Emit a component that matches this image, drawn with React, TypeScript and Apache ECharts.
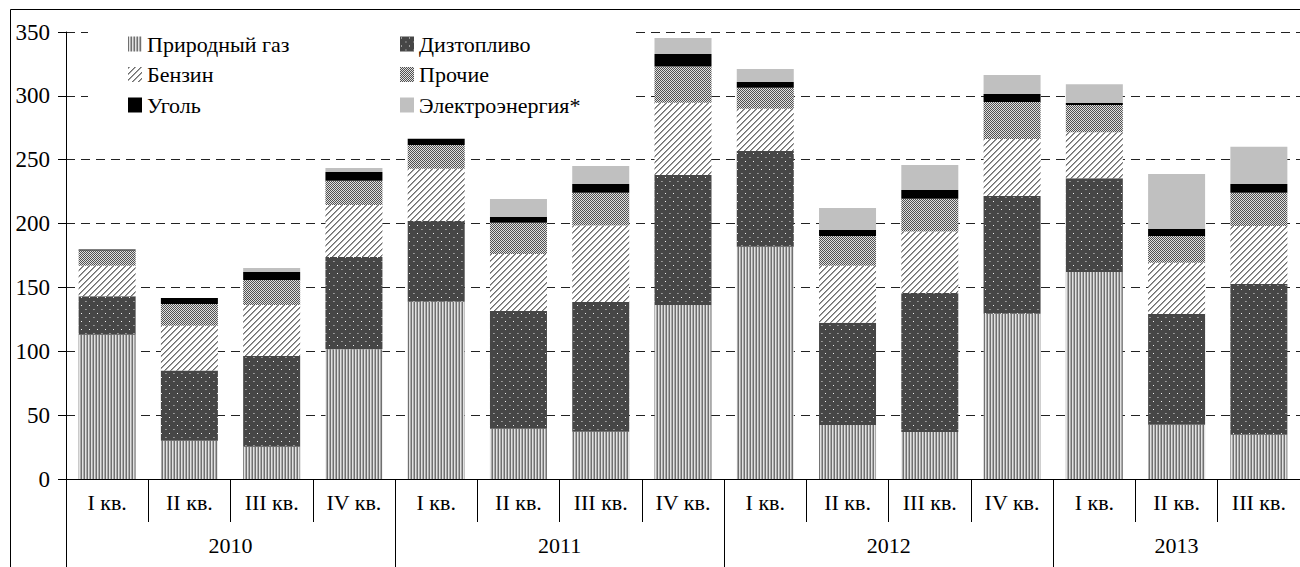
import React, { useEffect, useRef } from 'react';
import * as echarts from 'echarts';

const quarters = ['I кв.', 'II кв.', 'III кв.', 'IV кв.', 'I кв.', 'II кв.', 'III кв.', 'IV кв.', 'I кв.', 'II кв.', 'III кв.', 'IV кв.', 'I кв.', 'II кв.', 'III кв.'];
const years = ['2010', '2011', '2012', '2013'];
const quartersPerYear = [4, 4, 4, 3];

const seriesNames = ['Природный газ', 'Дизтопливо', 'Бензин', 'Прочие', 'Уголь', 'Электроэнергия*'];
const gas = [113, 30, 25.3, 101.6, 138.8, 39.4, 37, 136.3, 181.9, 42.3, 36.8, 129.4, 162.1, 42.5, 34.7];
const diesel = [30, 55, 71, 72.2, 63.2, 92.2, 101.6, 101.7, 75, 80.1, 108.9, 92.2, 73.4, 86.7, 118];
const petrol = [24, 35, 40, 40.8, 41, 44.6, 59.8, 56.7, 33.1, 44.6, 48, 44.6, 36, 40.2, 45.4];
const other = [12, 17, 19.5, 19, 18.5, 24.5, 25.8, 28.2, 16.4, 23.3, 25.8, 29, 21.4, 20.9, 26.1];
const coal = [0.7, 4.7, 6.3, 6.8, 4.7, 4.7, 6.8, 9.9, 4.5, 4.7, 6.8, 6.3, 1.5, 5.5, 6.8];
const electricity = [0, 0, 3.1, 3.1, 0.8, 13.9, 14.1, 12.5, 10.1, 17.2, 19.6, 14.9, 14.7, 43, 29.2];

const yMin = 0;
const yMax = 350;
const yStep = 50;

const FONT = 'Liberation Serif';

function makePattern(w: number, h: number, bg: string, pix: [number, number, string][]) {
  const c = document.createElement('canvas');
  c.width = w;
  c.height = h;
  const ctx = c.getContext('2d')!;
  ctx.fillStyle = bg;
  ctx.fillRect(0, 0, w, h);
  pix.forEach(([x, y, col]) => {
    ctx.fillStyle = col;
    ctx.fillRect(x, y, 1, 1);
  });
  return { image: c, repeat: 'repeat', imageWidth: w, imageHeight: h } as any;
}

export default function App() {
  const ref = useRef<HTMLDivElement>(null);
  useEffect(() => {
    document.body.style.margin = '0';
    const chart = echarts.init(ref.current!, null, { renderer: 'svg' });

    const gasPix: [number, number, string][] = [];
    for (let y = 0; y < 2; y++) {
      gasPix.push([0, y, '#707070'], [1, y, '#e2e2e2'], [2, y, '#aaaaaa']);
    }
    const gasPat = makePattern(3, 2, '#a8a8a8', gasPix);
    const dieselPat = makePattern(8, 8, '#464646', [[1, 1, '#f0f0f0'], [5, 5, '#9a9a9a'], [6, 5, '#8a8a8a']]);
    const petrolPix: [number, number, string][] = [];
    for (let y = 0; y < 6; y++) for (let x = 0; x < 6; x++) {
      const k = (x + y) % 6;
      if (k === 0) petrolPix.push([x, y, '#6e6e6e']);
      else if (k === 1) petrolPix.push([x, y, '#a0a0a0']);
    }
    const petrolPat = makePattern(6, 6, '#ffffff', petrolPix);
    const otherPat = makePattern(2, 2, '#e0e0e0', [[0, 0, '#505050'], [1, 1, '#505050']]);

    const colors = [gasPat, dieselPat, petrolPat, otherPat, '#000000', '#c0c0c0'];
    const values = [gas, diesel, petrol, other, coal, electricity];

    const totalHalf = quarters.length * 2;
    const yearPoints: string[] = [];
    for (let i = 0; i <= totalHalf; i++) yearPoints.push('');
    const boundaries = new Set<number>([0]);
    const labelIdx = new Set<number>();
    let start = 0;
    quartersPerYear.forEach((n, i) => {
      const mid = start * 2 + n;
      yearPoints[mid] = years[i];
      labelIdx.add(mid);
      start += n;
      boundaries.add(start * 2);
    });

    const textBase = { fontFamily: FONT, color: '#000', fontWeight: 'normal' as const };
    const legendText = { fontFamily: FONT, color: '#000', fontSize: 22, lineHeight: 22, fontWeight: 'normal' as const };
    const legendCommon = {
      orient: 'vertical', top: 33, itemWidth: 14, itemHeight: 15, itemGap: 8.5, padding: 0,
      icon: 'rect', selectedMode: false,
      textStyle: legendText,
    };

    chart.setOption({
      animation: false,
      backgroundColor: '#fff',
      textStyle: { fontFamily: FONT, color: '#000' },
      grid: { left: 66, top: 32, width: 1242, height: 447 },
      legend: [
        { ...legendCommon, left: 128, data: [seriesNames[0], seriesNames[2], seriesNames[4]] },
        { ...legendCommon, left: 400, data: [seriesNames[1], seriesNames[3], seriesNames[5]] },
      ],
      xAxis: [
        {
          type: 'category', data: quarters, boundaryGap: true,
          axisLine: { show: true, lineStyle: { color: '#000', width: 1 } },
          axisTick: { show: true, interval: 0, length: 43, lineStyle: { color: '#000' } },
          axisLabel: { interval: 0, margin: 12, fontSize: 22, ...textBase },
          splitLine: { show: false },
        },
        {
          type: 'category', data: yearPoints, boundaryGap: false, position: 'bottom',
          axisLine: { show: false },
          axisTick: { show: true, length: 100, interval: (i: number) => boundaries.has(i), lineStyle: { color: '#000' } },
          axisLabel: { show: true, interval: (i: number) => labelIdx.has(i), margin: 55, fontSize: 22, ...textBase },
          splitLine: { show: false },
        },
      ],
      yAxis: {
        type: 'value', min: yMin, max: yMax, interval: yStep,
        axisLine: { show: true, lineStyle: { color: '#000' } },
        axisTick: { show: true, length: 8, lineStyle: { color: '#000' } },
        axisLabel: { margin: 16, fontSize: 23, ...textBase },
        splitLine: { show: true, lineStyle: { type: [9, 6], color: '#222', width: 1 } },
      },
      series: seriesNames.map((name, i) => ({
        name, type: 'bar', stack: 'total', xAxisIndex: 0, barWidth: 57,
        itemStyle: { color: colors[i] },
        data: values[i],
      })),
      graphic: [
        { type: 'rect', z: 1, silent: true, shape: { x: 88, y: 18, width: 545, height: 107 }, style: { fill: '#fff' } },
        { type: 'rect', z: 10, silent: true, shape: { x: 10.5, y: 9.5, width: 1400, height: 700 }, style: { fill: 'none', stroke: '#000', lineWidth: 1 } },
      ],
    });
    return () => chart.dispose();
  }, []);
  return <div ref={ref} style={{ width: 1300, height: 567 }} />;
}
